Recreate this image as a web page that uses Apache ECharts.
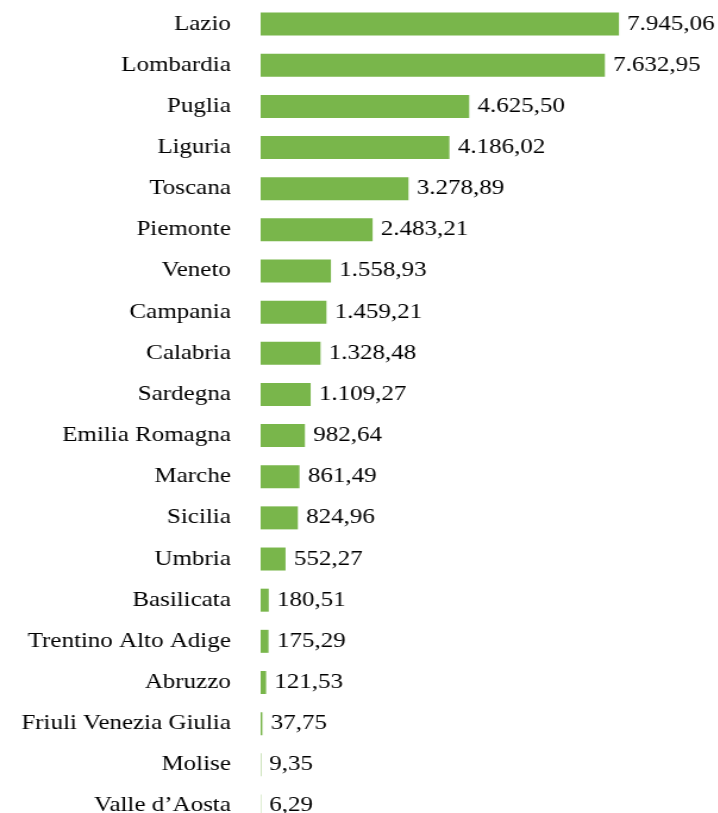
<!DOCTYPE html>
<html>
<head>
<meta charset="utf-8">
<script src="https://cdn.jsdelivr.net/npm/echarts@6/dist/echarts.min.js"></script>
<style>
  html, body { margin: 0; padding: 0; background: #ffffff; overflow: hidden; }
  /* The chart is laid out narrower and widened horizontally, giving the wide serif lettering */
  #chart { width: 603px; height: 813px; transform: scaleX(1.19); transform-origin: 0 0; }
</style>
</head>
<body>
<div id="chart"></div>
<script>
// Regions, top to bottom
const regions = [
  'Lazio', 'Lombardia', 'Puglia', 'Liguria', 'Toscana', 'Piemonte', 'Veneto',
  'Campania', 'Calabria', 'Sardegna', 'Emilia Romagna', 'Marche', 'Sicilia',
  'Umbria', 'Basilicata', 'Trentino Alto Adige', 'Abruzzo',
  'Friuli Venezia Giulia', 'Molise', 'Valle d\u2019Aosta'
];
// Value per region
const values = [
  7945.06, 7632.95, 4625.50, 4186.02, 3278.89, 2483.21, 1558.93,
  1459.21, 1328.48, 1109.27, 982.64, 861.49, 824.96,
  552.27, 180.51, 175.29, 121.53,
  37.75, 9.35, 6.29
];

// Italian number format: thousands with ".", decimals with ","
function fmtIt(v) {
  const parts = v.toFixed(2).split('.');
  const intPart = parts[0].replace(/\B(?=(\d{3})+(?!\d))/g, '.');
  return intPart + ',' + parts[1];
}

const FONT = '"Liberation Serif", "Times New Roman", serif';
const TEXT = {
  color: '#000000',
  fontFamily: FONT,
  fontSize: 21
};

const chart = echarts.init(document.getElementById('chart'));
chart.setOption({
  animation: false,
  backgroundColor: '#ffffff',
  grid: {
    left: 219, width: 379, top: 3.5, height: 823,
    containLabel: false,
    outerBoundsMode: 'none'
  },
  xAxis: {
    type: 'value',
    min: 0,
    max: 10000,
    show: false
  },
  yAxis: {
    type: 'category',
    data: regions,
    inverse: true,
    axisLine: { show: false },
    axisTick: { show: false },
    splitLine: { show: false },
    axisLabel: Object.assign({ margin: 25 }, TEXT)
  },
  series: [{
    type: 'bar',
    data: values,
    barWidth: 23,
    itemStyle: { color: '#79b64b' },
    label: Object.assign({
      show: true,
      position: 'right',
      distance: 7,
      formatter: p => fmtIt(p.value)
    }, TEXT)
  }]
});
</script>
</body>
</html>
